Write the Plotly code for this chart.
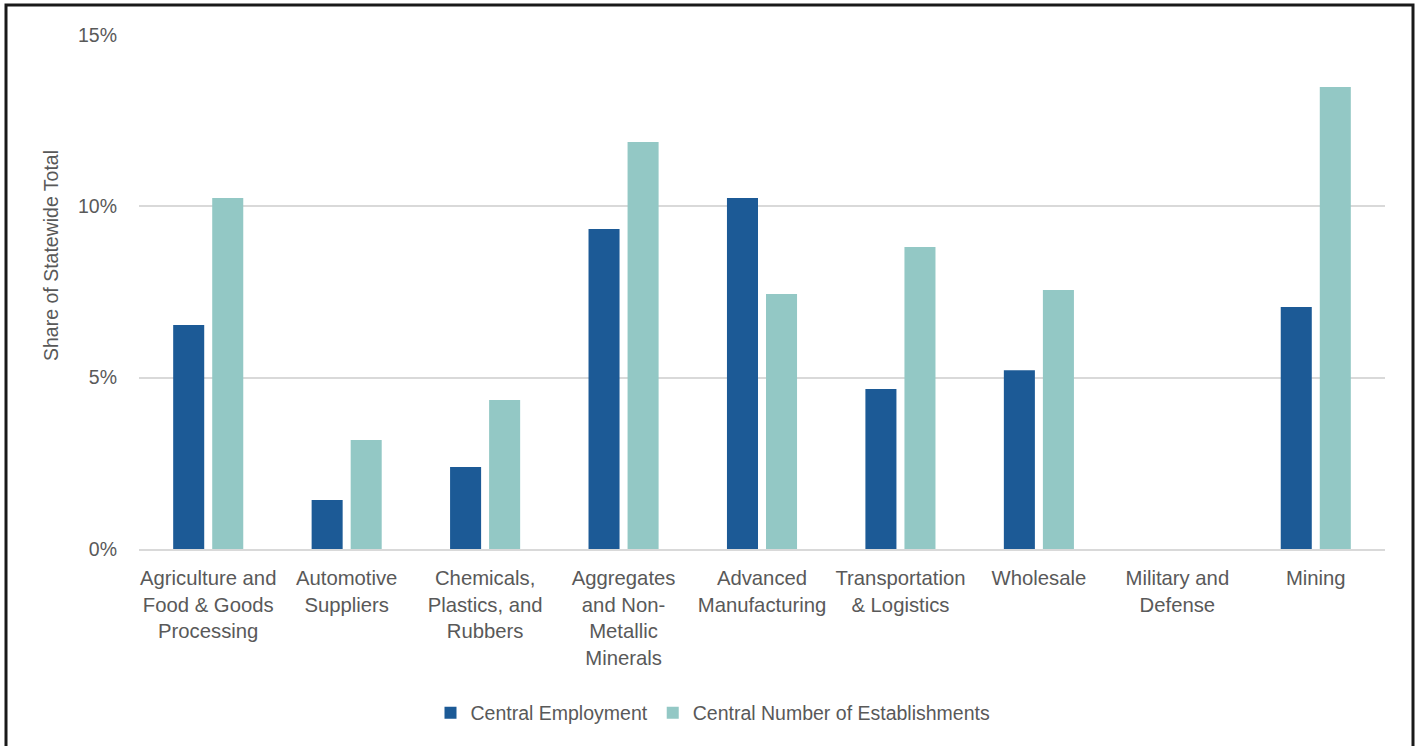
import plotly.graph_objects as go

categories = [
    "Agriculture and<br>Food & Goods<br>Processing",
    "Automotive<br>Suppliers",
    "Chemicals,<br>Plastics, and<br>Rubbers",
    "Aggregates<br>and Non-<br>Metallic<br>Minerals",
    "Advanced<br>Manufacturing",
    "Transportation<br>& Logistics",
    "Wholesale",
    "Military and<br>Defense",
    "Mining",
]
employment = [0.0654, 0.0143, 0.0239, 0.0934, 0.1024, 0.0467, 0.0522, 0.0, 0.0706]
establishments = [0.1024, 0.0318, 0.0435, 0.1188, 0.0744, 0.0881, 0.0756, 0.0, 0.1348]
y_ticks = [0, 0.05, 0.10, 0.15]
y_tick_labels = ["0%", "5%", "10%", "15%"]
y_title = "Share of Statewide Total"

FONT = "Liberation Sans, Arial, sans-serif"
FS = 19.5
TXT = "#595959"

fig = go.Figure()
fig.add_trace(go.Bar(x=categories, y=employment, name="Central Employment",
                     marker_color="#1c5a96", marker_line_width=0))
fig.add_trace(go.Bar(x=categories, y=establishments, name="Central Number of Establishments",
                     marker_color="#93c8c5", marker_line_width=0))

L, R, T, B = 139, 32, 35, 197
W, H = 1417, 746
pw, ph = W - L - R, H - T - B

fig.update_layout(
    width=W, height=H,
    margin=dict(l=L, r=R, t=T, b=B, autoexpand=False),
    paper_bgcolor="white", plot_bgcolor="white",
    barmode="group", bargap=0.436, bargroupgap=0.205,
    font=dict(family=FONT, size=FS, color=TXT),
    legend=dict(orientation="h", x=(713 - L) / pw, xanchor="center",
                y=(549 - 713) / ph, yanchor="middle",
                font=dict(size=FS, color=TXT), itemwidth=30, traceorder="normal"),
    showlegend=True,
)
fig.update_yaxes(range=[0, 0.15], tickvals=y_ticks, ticktext=y_tick_labels,
                 showgrid=True, gridcolor="#d9d9d9", gridwidth=2, zeroline=False,
                 showline=False, ticks="", ticklabelstandoff=21)
fig.update_xaxes(showline=True, linecolor="#d9d9d9", linewidth=2, ticks="",
                 showgrid=False, ticklabelstandoff=10, tickangle=0,
                 tickfont=dict(size=20.3, color=TXT))

fig.add_annotation(text=y_title, xref="paper", yref="paper",
                   x=(51 - L) / pw, y=(549 - 256) / ph, xanchor="center", yanchor="middle",
                   textangle=-90, showarrow=False, font=dict(size=FS, color=TXT))

fig.add_shape(type="rect", xref="paper", yref="paper",
              x0=(6 - L) / pw, x1=(1413 - L) / pw,
              y0=-0.6, y1=(549 - 5) / ph,
              line=dict(color="#1a1a1a", width=3), fillcolor="rgba(0,0,0,0)", layer="above")

fig.write_html("out.html")
